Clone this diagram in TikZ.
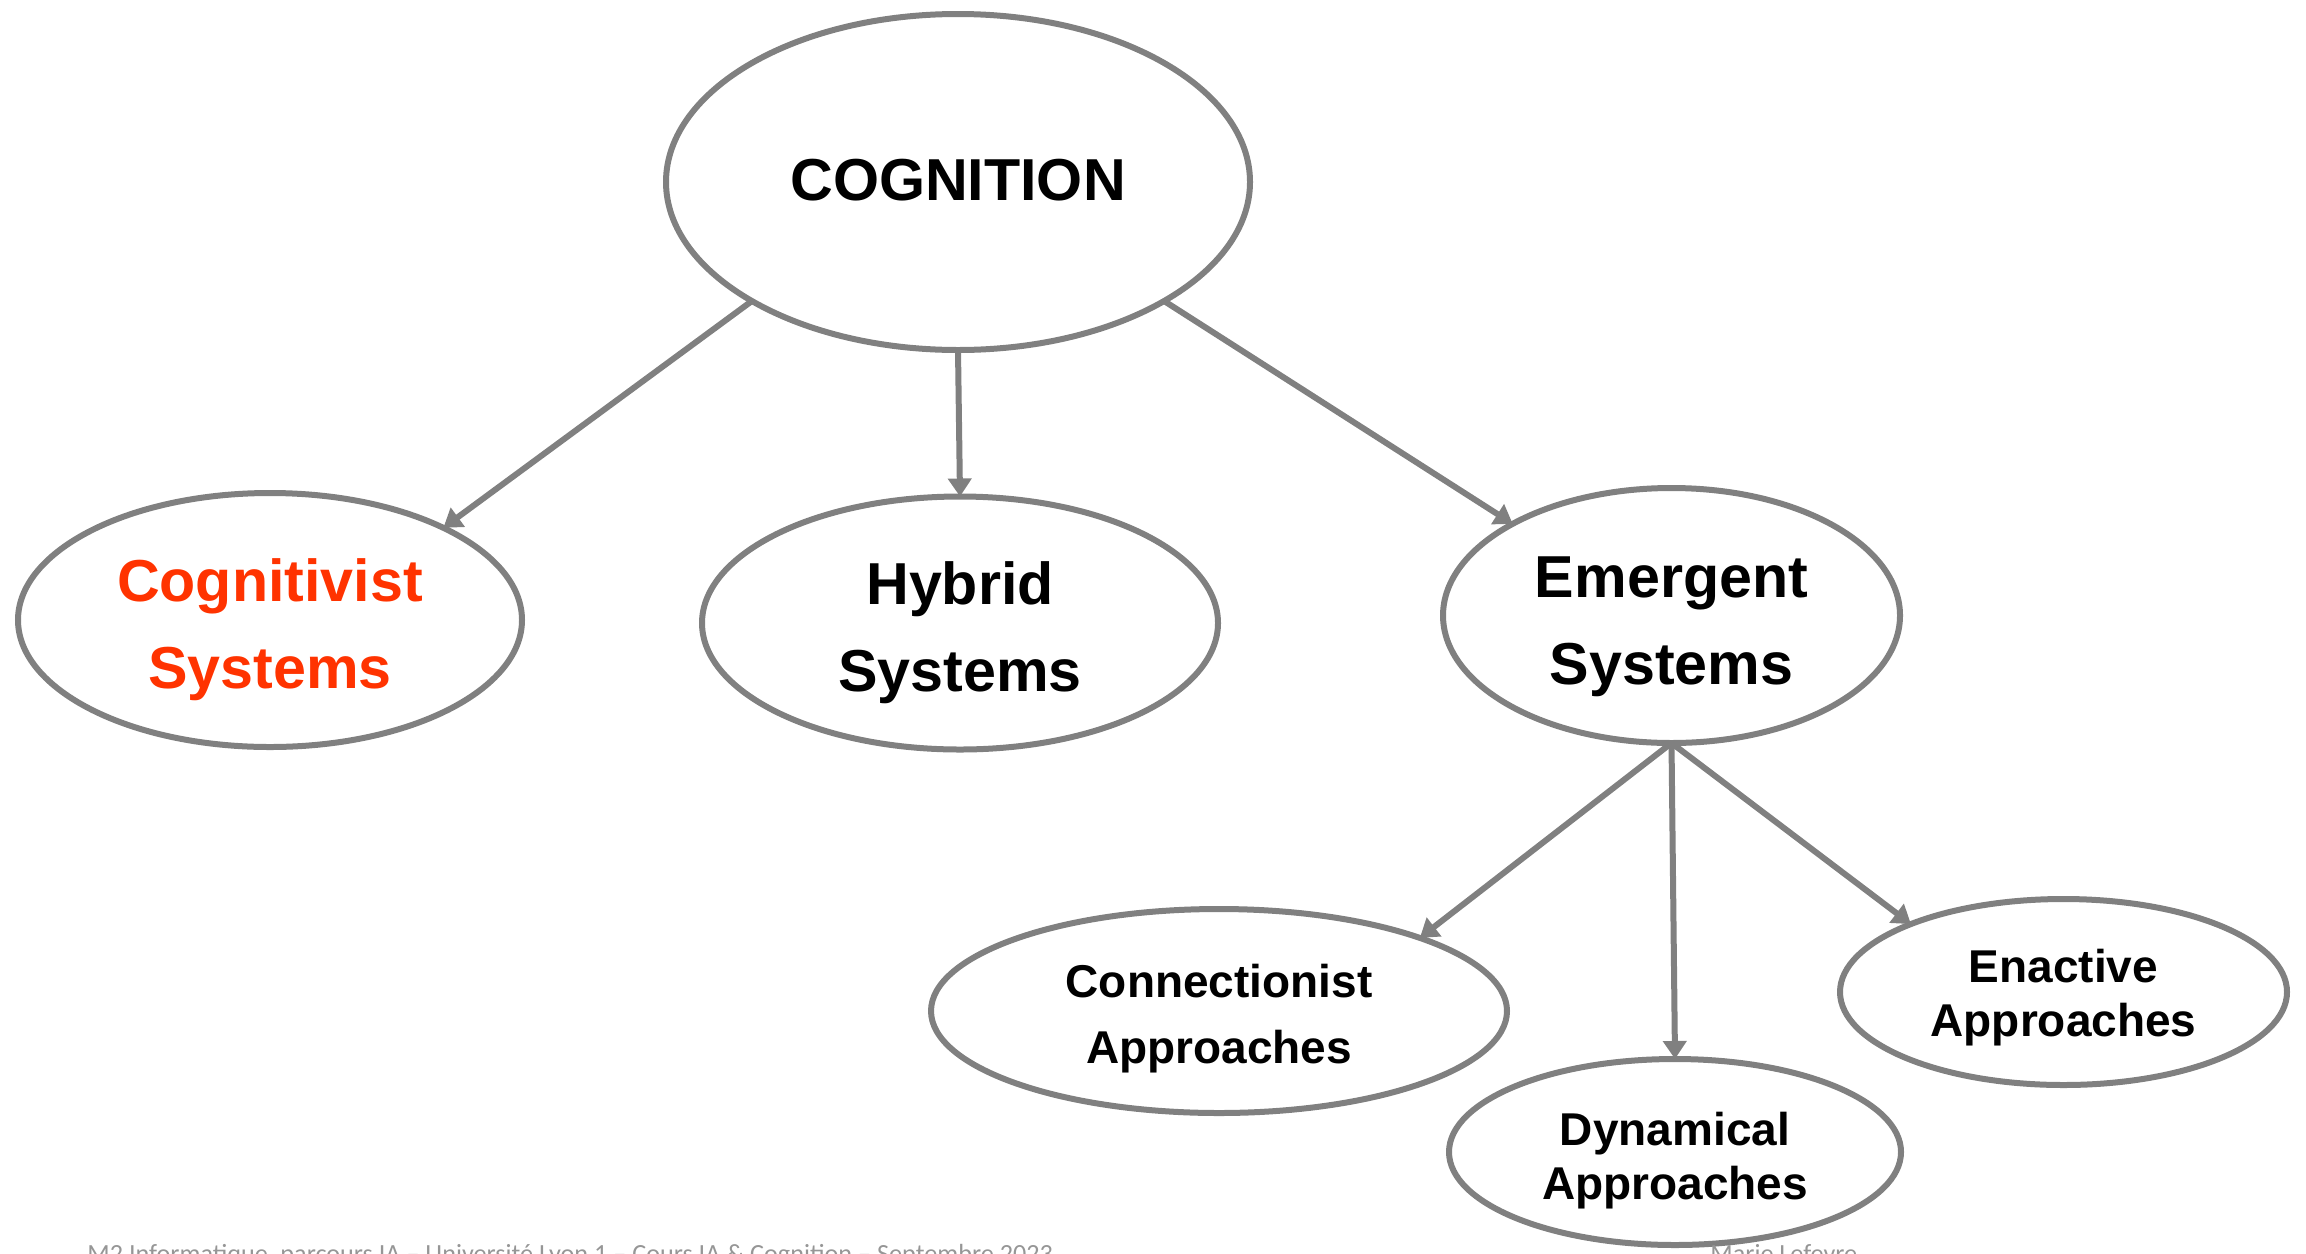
\documentclass[tikz,border=0pt]{standalone}
\usepackage{fontspec}
\setmainfont{Liberation Sans}
\newfontfamily\footfont{Carlito}
\usetikzlibrary{shapes.geometric,arrows.meta}
\definecolor{edgegray}{RGB}{128,128,128}
\definecolor{accentred}{RGB}{255,51,0}
\definecolor{footgray}{RGB}{150,150,150}
% centred stack of lines, lowered inside its node by #1
\newcommand\stackdown[2]{\raisebox{-#1}[\height][\depth]{\begin{tabular}{@{}c@{}}#2\end{tabular}}}

\begin{document}
\begin{tikzpicture}[x=0.5pt,y=-0.5pt,
  oval/.style={ellipse, draw=edgegray, line width=3pt, inner sep=0pt, outer sep=0pt,
    font=\bfseries\fontsize{29.6}{43.5}\selectfont},
  smalloval/.style={oval, font=\bfseries\fontsize{23}{27}\selectfont},
  link/.style={draw=edgegray, line width=3pt, -{Triangle[length=9pt,width=11.5pt]}},
  foot/.style={text=footgray, font=\footfont\fontsize{13.1}{15}\selectfont, inner sep=0pt},
]
\useasboundingbox (0,0) rectangle (2306,1253);
\clip (0,0) rectangle (2306,1253);

% top level
\node[oval, minimum width=292pt, minimum height=168pt] (cog) at (958,182) {\stackdown{0.5pt}{COGNITION}};

% second level
\node[oval, text=accentred, minimum width=252pt, minimum height=127pt] (cogn) at (270,620) {\stackdown{4pt}{Cognitivist\\Systems}};
\node[oval, minimum width=258pt, minimum height=126.5pt] (hyb) at (960,623) {\stackdown{4pt}{Hybrid\\Systems}};
\node[oval, minimum width=228.5pt, minimum height=127.5pt] (emer) at (1671.5,615.5) {\stackdown{4pt}{Emergent\\Systems}};

% third level
\node[smalloval, font=\bfseries\fontsize{23}{33}\selectfont, minimum width=288pt, minimum height=102pt] (conn) at (1219,1011) {\stackdown{3pt}{Connectionist\\Approaches}};
\node[smalloval, minimum width=223.5pt, minimum height=93pt] (enac) at (2063.5,992) {\stackdown{3.5pt}{Enactive\\Approaches}};
\node[smalloval, minimum width=226pt, minimum height=93pt] (dyn) at (1675,1152) {\stackdown{5pt}{Dynamical\\Approaches}};

% connectors
\draw[link] (cog.210) -- (cogn.28);
\draw[link] (cog.south) -- (hyb.north);
\draw[link] (cog.330) -- (emer.150);
\draw[link] (emer.south) -- (conn.20);
\draw[link] (emer.south) -- (dyn.north);
\draw[link] (emer.south) -- (enac.156);

% footer
\node[foot, anchor=base west] (footl) at (87,1262) {M2 Informatique, parcours IA – Université Lyon 1 – Cours IA \& Cognition – Septembre 2023};
\node[foot, anchor=base west] (footr) at (1710,1262) {Marie Lefevre};
\end{tikzpicture}
\end{document}
